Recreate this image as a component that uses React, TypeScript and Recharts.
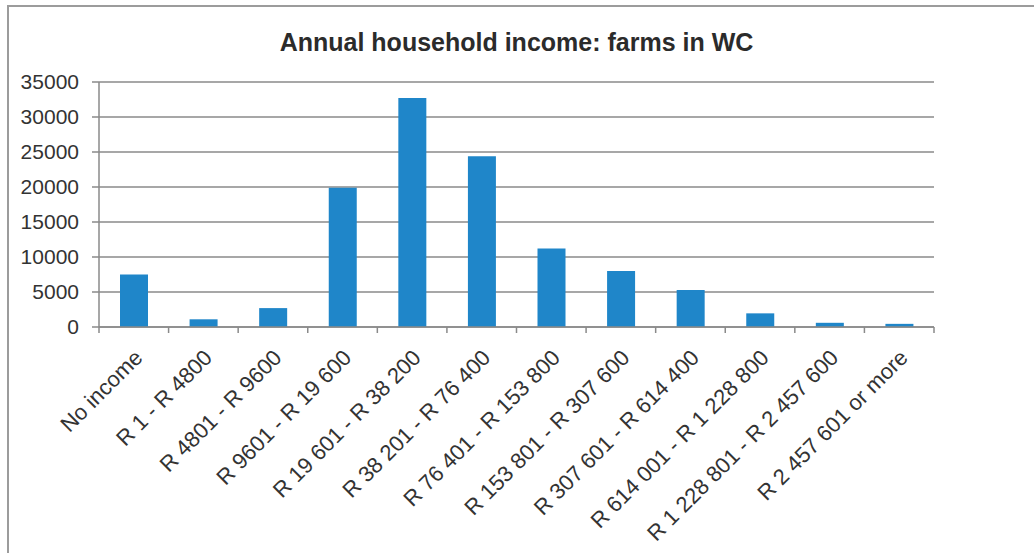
import { Bar, BarChart, CartesianGrid, XAxis, YAxis } from "recharts";

const incomeBands = [
  "No income",
  "R 1 - R 4800",
  "R 4801 - R 9600",
  "R 9601 - R 19 600",
  "R 19 601 - R 38 200",
  "R 38 201 - R 76 400",
  "R 76 401 - R 153 800",
  "R 153 801 - R 307 600",
  "R 307 601 - R 614 400",
  "R 614 001 - R 1 228 800",
  "R 1 228 801 - R 2 457 600",
  "R 2 457 601 or more",
];

const households = [7500, 1100, 2700, 19900, 32700, 24400, 11200, 8000, 5300, 1950, 600, 450];

const yTicks = [0, 5000, 10000, 15000, 20000, 25000, 30000, 35000];

const data = incomeBands.map((band, i) => ({ band, households: households[i] }));

const W = 1034;
const H = 553;
const margin = { top: 82, right: 100, bottom: 26, left: 9 };
const Y_AXIS_W = 90;
const plotW = W - margin.left - margin.right - Y_AXIS_W;

const FONT = '"Liberation Sans", Arial, sans-serif';
const GRAY = "#8a8a8a";
const TEXT = "#333333";

// label rotated -45deg, ends just below the band centre; boundary tick marks drawn here too
function BandTick(props: any) {
  const { x, y, payload, index } = props;
  const half = plotW / incomeBands.length / 2;
  const tx = x + 10;
  const ty = y + 32;
  return (
    <g>
      <line x1={x - half} x2={x - half} y1={y} y2={y + 6} stroke={GRAY} strokeWidth={1.5} />
      {index === incomeBands.length - 1 && (
        <line x1={x + half} x2={x + half} y1={y} y2={y + 6} stroke={GRAY} strokeWidth={1.5} />
      )}
      <text
        x={tx}
        y={ty}
        textAnchor="end"
        transform={`rotate(-45, ${tx}, ${ty})`}
        fontSize={22}
        fontFamily={FONT}
        fill={TEXT}
      >
        {payload.value}
      </text>
    </g>
  );
}

export default function App() {
  return (
    <div style={{ position: "absolute", left: 0, top: 0, width: W, height: H, background: "#fff" }}>
      <div
        style={{
          position: "absolute",
          left: 7,
          top: 5,
          width: W - 7,
          height: H - 5,
          borderTop: "2px solid #9c9c9c",
          borderLeft: "2px solid #9c9c9c",
          boxSizing: "border-box",
        }}
      />
      <div
        style={{
          position: "absolute",
          left: 0,
          top: 30,
          width: 1033,
          textAlign: "center",
          fontFamily: FONT,
          fontWeight: "bold",
          fontSize: 25,
          lineHeight: "25px",
          color: "#2b2b2b",
        }}
      >
        Annual household income: farms in WC
      </div>
      <BarChart width={W} height={H} data={data} margin={margin}>
        <CartesianGrid vertical={false} stroke={GRAY} strokeWidth={1.5} />
        <XAxis
          dataKey="band"
          interval={0}
          height={200}
          tickLine={false}
          tickSize={0}
          tickMargin={0}
          axisLine={{ stroke: GRAY, strokeWidth: 1.5 }}
          tick={<BandTick />}
        />
        <YAxis
          width={Y_AXIS_W}
          domain={[0, 35000]}
          ticks={yTicks}
          interval={0}
          tickSize={7}
          tickMargin={13}
          tickLine={{ stroke: GRAY, strokeWidth: 1.5 }}
          axisLine={{ stroke: GRAY, strokeWidth: 1.5 }}
          tick={{ fontSize: 21, fontFamily: FONT, fill: TEXT }}
        />
        <Bar dataKey="households" fill="#1f86c9" barSize={28} isAnimationActive={false} />
      </BarChart>
    </div>
  );
}
